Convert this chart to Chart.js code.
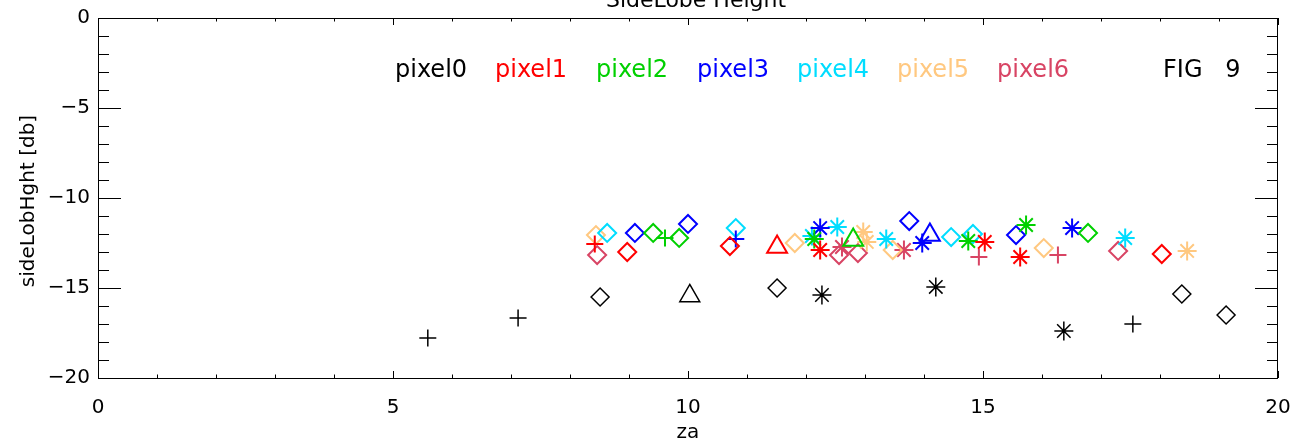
<!DOCTYPE html>
<html>
<head>
<meta charset="utf-8">
<script src="https://cdn.jsdelivr.net/npm/chart.js@4.4.1/dist/chart.umd.min.js"></script>
<style>
html, body { margin: 0; padding: 0; background: #fff; }
</style>
</head>
<body>
<canvas id="sidelobe" width="1299" height="445"></canvas>
<script>
/* SideLobe height vs za, one series per pixel */

const seriesNames = ['pixel0', 'pixel1', 'pixel2', 'pixel3', 'pixel4', 'pixel5', 'pixel6'];
const seriesColors = ['#000000', '#ff0000', '#00d000', '#0000ff', '#00ddff', '#ffc880', '#d84464'];
const xTicks = [0, 5, 10, 15, 20];
const yTicks = [-20, -15, -10, -5, 0];

// symbols: p = plus, d = diamond, t = triangle, a = asterisk
const pix0Za = [5.59, 7.12, 8.51, 10.03, 11.51, 12.27, 14.20, 16.37, 17.54, 18.37, 19.12];
const pix0Db = [-17.78, -16.67, -15.50, -15.44, -15.00, -15.39, -14.94, -17.39, -17.00, -15.33, -16.50];
const pix0Sym = ['p', 'p', 'd', 't', 'd', 'a', 'a', 'a', 'p', 'd', 'd'];

const pix1Za = [8.42, 8.97, 10.71, 11.51, 12.24, 15.03, 15.63, 18.03];
const pix1Db = [-12.56, -13.00, -12.67, -12.72, -12.89, -12.44, -13.28, -13.11];
const pix1Sym = ['p', 'd', 'd', 't', 'a', 'a', 'a', 'd'];

const pix2Za = [9.41, 9.61, 9.85, 12.14, 12.80, 14.75, 15.73, 16.78];
const pix2Db = [-11.94, -12.22, -12.22, -12.28, -12.33, -12.39, -11.50, -11.94];
const pix2Sym = ['d', 'p', 'd', 'a', 't', 'a', 'a', 'd'];

const pix3Za = [9.10, 10.00, 10.81, 12.24, 13.75, 13.97, 14.10, 15.56, 16.51];
const pix3Db = [-11.94, -11.44, -12.28, -11.67, -11.28, -12.50, -12.06, -12.06, -11.67];
const pix3Sym = ['d', 'd', 'p', 'a', 'd', 'a', 't', 'd', 'a'];

const pix4Za = [8.63, 10.81, 12.10, 12.53, 13.36, 14.46, 14.83, 17.41];
const pix4Db = [-11.94, -11.67, -12.11, -11.61, -12.28, -12.17, -12.00, -12.22];
const pix4Sym = ['d', 'd', 'a', 'a', 'a', 'd', 'd', 'a'];

const pix5Za = [8.44, 11.81, 12.97, 13.03, 13.47, 16.03, 18.46];
const pix5Db = [-12.06, -12.50, -11.89, -12.44, -12.89, -12.78, -12.94];
const pix5Sym = ['d', 'd', 'a', 'a', 'd', 'd', 'a'];

const pix6Za = [8.46, 12.56, 12.61, 12.88, 13.66, 14.93, 16.27, 17.29];
const pix6Db = [-13.17, -13.17, -12.72, -13.06, -12.89, -13.28, -13.17, -12.94];
const pix6Sym = ['d', 'd', 'a', 'd', 'a', 'p', 'p', 'd'];

const allZa = [pix0Za, pix1Za, pix2Za, pix3Za, pix4Za, pix5Za, pix6Za];
const allDb = [pix0Db, pix1Db, pix2Db, pix3Db, pix4Db, pix5Db, pix6Db];
const allSym = [pix0Sym, pix1Sym, pix2Sym, pix3Sym, pix4Sym, pix5Sym, pix6Sym];

const symStyle = { p: 'cross', d: 'rectRot', t: 'triangle', a: 'star' };
const symRadius = { p: 8.5, d: 9, t: 11.5, a: 9.5 };

const FONT = '"DejaVu Sans", sans-serif';

datasets = [];
for (i = 0; i < seriesNames.length; i++) {
    pts = [];
    for (j = 0; j < allZa[i].length; j++) {
        pts.push({ x: allZa[i][j], y: allDb[i][j] });
    }
    datasets.push({
        label: seriesNames[i],
        data: pts,
        showLine: false,
        borderColor: seriesColors[i],
        backgroundColor: 'rgba(0,0,0,0)',
        pointStyle: allSym[i].map(s => symStyle[s]),
        pointRadius: allSym[i].map(s => symRadius[s]),
        pointBorderWidth: i == 0 ? 1.5 : 2
    });
}

// axes box, inward ticks and text, IDL style
const idlFrame = {
    id: 'idlFrame',
    afterDraw(chart) {
        const ctx = chart.ctx;
        const a = chart.chartArea;
        const xs = chart.scales.x, ys = chart.scales.y;
        ctx.save();
        ctx.strokeStyle = '#000';
        ctx.lineWidth = 1;
        ctx.strokeRect(a.left + 0.5, a.top + 0.5, a.right - a.left - 1, a.bottom - a.top);
        ctx.beginPath();
        for (v = -20; v <= 0; v++) {
            const y = Math.round(ys.getPixelForValue(v)) + 0.5;
            const len = v % 5 == 0 ? 23 : 11;
            ctx.moveTo(a.left, y); ctx.lineTo(a.left + len, y);
            ctx.moveTo(a.right, y); ctx.lineTo(a.right - len, y);
        }
        for (v = 0; v <= 20; v++) {
            const x = Math.round(xs.getPixelForValue(v)) + 0.5;
            const len = v % 5 == 0 ? 7 : 3.5;
            ctx.moveTo(x, a.bottom); ctx.lineTo(x, a.bottom - len);
            ctx.moveTo(x, a.top); ctx.lineTo(x, a.top + len);
        }
        ctx.stroke();

        ctx.fillStyle = '#000';
        ctx.textAlign = 'center';
        ctx.textBaseline = 'alphabetic';
        ctx.font = '22px ' + FONT;
        ctx.fillText('SideLobe Height', 696, 7);
        ctx.font = '20px ' + FONT;
        ctx.fillText('za', (a.left + a.right) / 2, 438);
        ctx.save();
        ctx.translate(34, 201);
        ctx.rotate(-Math.PI / 2);
        ctx.fillText('sideLobHght [db]', 0, 0);
        ctx.restore();

        ctx.font = '24px ' + FONT;
        ctx.textAlign = 'left';
        const legX = [395, 495, 596, 697, 797, 897, 997];
        for (i = 0; i < seriesNames.length; i++) {
            ctx.fillStyle = seriesColors[i];
            ctx.fillText(seriesNames[i], legX[i], 77);
        }
        ctx.fillStyle = '#000';
        ctx.fillText('FIG   9', 1163, 77);
        ctx.restore();
    }
};

new Chart(document.getElementById('sidelobe'), {
    type: 'scatter',
    data: { datasets: datasets },
    options: {
        responsive: false,
        animation: false,
        devicePixelRatio: 1,
        layout: { padding: { top: 18, right: 21, left: 0, bottom: 0 } },
        plugins: { legend: { display: false }, tooltip: { enabled: false } },
        scales: {
            x: {
                type: 'linear', min: 0, max: 20,
                afterFit: s => { s.height = 67; s.paddingLeft = 0; s.paddingRight = 0; },
                afterBuildTicks: s => { s.ticks = xTicks.map(v => ({ value: v })); },
                grid: { display: false, drawTicks: false },
                border: { display: false },
                ticks: { color: '#000', padding: 18, maxRotation: 0, font: { family: FONT, size: 20 } }
            },
            y: {
                type: 'linear', min: -20, max: 0,
                afterFit: s => { s.width = 98; s.paddingTop = 0; s.paddingBottom = 0; },
                afterBuildTicks: s => { s.ticks = yTicks.map(v => ({ value: v })); },
                grid: { display: false, drawTicks: false },
                border: { display: false },
                ticks: {
                    color: '#000', padding: 8, font: { family: FONT, size: 20 },
                    callback: v => v < 0 ? '\u2212' + Math.abs(v) : '' + v
                }
            }
        }
    },
    plugins: [idlFrame]
});
</script>
</body>
</html>
